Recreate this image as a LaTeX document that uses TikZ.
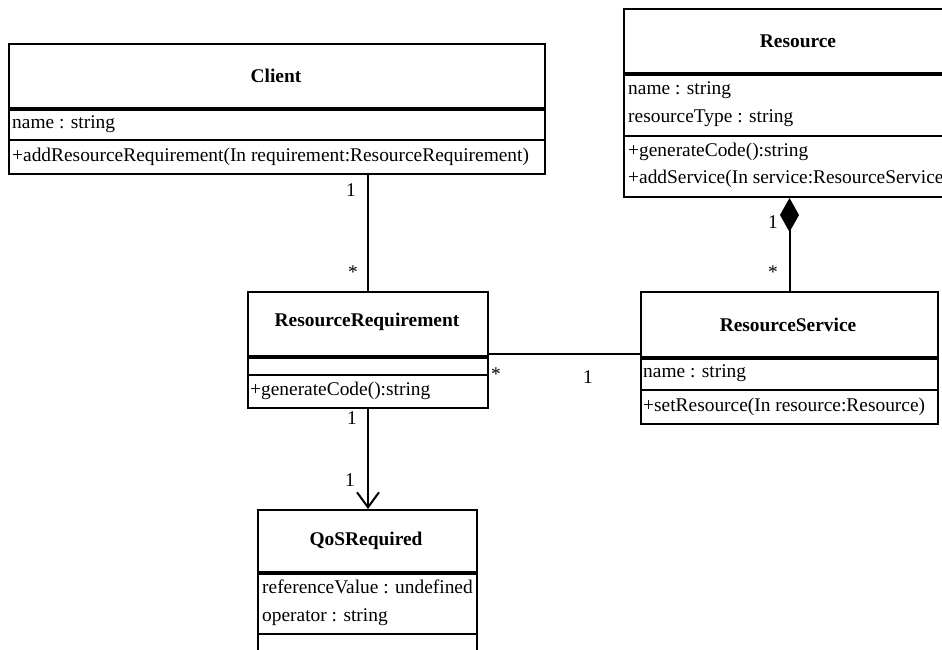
\documentclass[tikz,border=0pt]{standalone}
\usepackage{fontspec}
\setmainfont{Liberation Serif}
\usetikzlibrary{arrows.meta}
\begin{document}
\begin{tikzpicture}[x=1pt,y=-1pt,
  classbox/.style={draw,line width=2pt,anchor=north west,inner sep=0pt,fill=white},
  classtitle/.style={font=\fontsize{19.4}{23}\selectfont\bfseries,inner sep=0pt},
  member/.style={font=\fontsize{19.4}{23}\selectfont,anchor=west,inner sep=0pt,text height=13pt,text depth=4pt},
  mult/.style={font=\fontsize{19.4}{23}\selectfont,inner sep=0pt},
  heavy/.style={line width=3.5pt},
  light/.style={line width=1.5pt},
  link/.style={line width=2pt}]
\clip (0,0) rectangle (942,650);
\fill[white] (0,0) rectangle (942,650);

% Client
\node[classbox,minimum width=536pt,minimum height=130pt] (client) at (8,43) {};
\draw[heavy] (8,109) -- (544,109);
\draw[light] (8,140) -- (544,140);
\node[classtitle] (clientT) at (276,76) {Client};
\node[member] (clientA) at (12,124) {name : string};
\node[member] (clientM) at (12,157) {+addResourceRequirement(In requirement:ResourceRequirement)};

% Resource
\node[classbox,minimum width=350pt,minimum height=188pt] (res) at (623,8) {};
\draw[heavy] (623,74) -- (973,74);
\draw[light] (623,136) -- (973,136);
\node[classtitle] (resT) at (798,41) {Resource};
\node[member] (resA1) at (628,90) {name : string};
\node[member] (resA2) at (628,118) {resourceType : string};
\node[member] (resM1) at (628,152) {+generateCode():string};
\node[member] (resM2) at (628,179) {+addService(In service:ResourceService)};

% ResourceRequirement
\node[classbox,minimum width=240pt,minimum height=116pt] (rr) at (247,291) {};
\draw[heavy] (247,357) -- (487,357);
\draw[light] (247,375) -- (487,375);
\node[classtitle] (rrT) at (367,322) {ResourceRequirement};
\node[member] (rrM) at (250,391) {+generateCode():string};

% ResourceService
\node[classbox,minimum width=297pt,minimum height=132pt] (rs) at (640,291) {};
\draw[heavy] (640,358) -- (937,358);
\draw[light] (640,390) -- (937,390);
\node[classtitle] (rsT) at (788,325) {ResourceService};
\node[member] (rsA) at (643,373) {name : string};
\node[member] (rsM) at (643,407) {+setResource(In resource:Resource)};

% QoSRequired
\node[classbox,minimum width=219pt,minimum height=160pt] (qos) at (257,509) {};
\draw[heavy] (257,573) -- (476,573);
\draw[light] (257,634) -- (476,634);
\node[classtitle] (qosT) at (366,541) {QoSRequired};
\node[member] (qosA1) at (262,589) {referenceValue : undefined};
\node[member] (qosA2) at (262,617) {operator : string};

% Associations
\draw[link] (rr.north) -- (rr.north |- client.south);
\draw[link] ([yshift=-4pt]rr.east) -- ([yshift=-4pt]rr.east -| rs.west);
\draw[link,-{Diamond[length=34pt,width=19pt]}] (rs.north) -- (rs.north |- res.south);
\draw[link,-{Straight Barb[length=15pt,width=22pt]}] (rr.south) -- (rr.south |- qos.north);

% Multiplicities
\node[mult] (m1) at (351,190) {1};
\node[mult] (m2) at (353,272) {*};
\node[mult] (m3) at (773,222) {1};
\node[mult] (m4) at (773,272) {*};
\node[mult] (m5) at (496,374) {*};
\node[mult] (m6) at (588,377) {1};
\node[mult] (m7) at (352,418) {1};
\node[mult] (m8) at (350,480) {1};
\end{tikzpicture}
\end{document}
